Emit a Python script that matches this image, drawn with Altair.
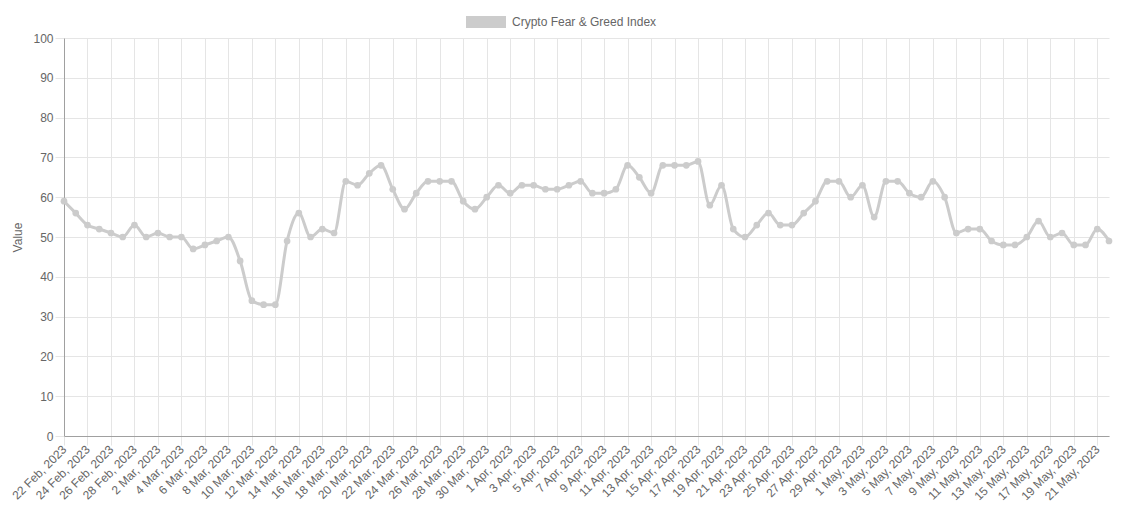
import altair as alt
import pandas as pd

series_name = "Crypto Fear & Greed Index"
start_date = "2023-02-22"
values = [
    59, 56, 53, 52, 51, 50, 53, 50, 51, 50, 50, 47, 48, 49, 50, 44, 34, 33, 33, 49,
    56, 50, 52, 51, 64, 63, 66, 68, 62, 57, 61, 64, 64, 64, 59, 57, 60, 63, 61, 63,
    63, 62, 62, 63, 64, 61, 61, 62, 68, 65, 61, 68, 68, 68, 69, 58, 63, 52, 50, 53,
    56, 53, 53, 56, 59, 64, 64, 60, 63, 55, 64, 64, 61, 60, 64, 60, 51, 52, 52, 49,
    48, 48, 50, 54, 50, 51, 48, 48, 52, 49,
]

dates = pd.date_range(start_date, periods=len(values), freq="D")
labels = [f"{d.day} {d.strftime('%b')}, {d.year}" for d in dates]
tick_labels = labels[::2]

df = pd.DataFrame({"label": labels, "value": values, "series": series_name})

FONT = "Liberation Sans"
GRAY_TXT = "#666666"
LINE = "#cccccc"

x = alt.X(
    "label:O",
    sort=None,
    scale=alt.Scale(type="point", padding=0),
    axis=alt.Axis(
        values=tick_labels,
        labelAngle=-45,
        labelAlign="right",
        labelBaseline="middle",
        labelPadding=2,
        tickSize=9,
        title=None,
        grid=True,
    ),
)
y = alt.Y(
    "value:Q",
    scale=alt.Scale(domain=[0, 100], nice=False, zero=True),
    axis=alt.Axis(values=list(range(0, 101, 10)), tickSize=9, labelPadding=2, title="Value", titlePadding=8),
)
color = alt.Color(
    "series:N",
    scale=alt.Scale(range=[LINE]),
    legend=alt.Legend(
        title=None,
        orient="none",
        legendX=402,
        legendY=-36,
        direction="horizontal",
        symbolType="M-1,-0.3L1,-0.3L1,0.3L-1,0.3Z",
        symbolSize=1600,
        symbolFillColor=LINE,
        symbolStrokeColor=LINE,
        symbolStrokeWidth=0,
        symbolOpacity=1,
        labelFontSize=12,
        labelColor=GRAY_TXT,
        labelFont=FONT,
        labelOffset=6,
    ),
)

base = alt.Chart(df)
line = base.mark_line(interpolate="monotone", strokeWidth=3).encode(x=x, y=y, color=color)
pts = base.mark_point(filled=True, size=45, opacity=1).encode(x=x, y=y, color=alt.Color("series:N", scale=alt.Scale(range=[LINE]), legend=None))

chart = (
    alt.layer(line, pts)
    .properties(
        width=1045,
        height=398,
        autosize=alt.AutoSizeParams(type="none"),
        padding={"left": 56, "top": 30, "right": 10, "bottom": 80},
    )
    .configure_view(stroke=None)
    .configure_axis(
        labelFont=FONT,
        titleFont=FONT,
        labelFontSize=12,
        titleFontSize=12,
        labelColor=GRAY_TXT,
        titleColor=GRAY_TXT,
        titleFontWeight="normal",
        gridColor="#e5e5e5",
        tickColor="#e5e5e5",
        domainColor="#a0a0a0",
    )
)

chart.save("out.html", embed_options={"renderer": "svg", "actions": False})
